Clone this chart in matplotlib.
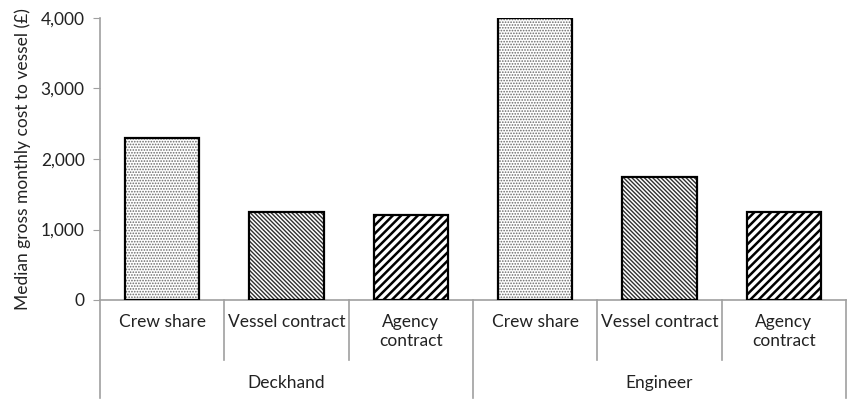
import matplotlib
matplotlib.use("Agg")
import matplotlib.pyplot as plt
import matplotlib.transforms as mtransforms
from matplotlib.ticker import FuncFormatter

plt.rcParams['hatch.linewidth'] = 1.0
plt.rcParams['font.family'] = ['Lato', 'DejaVu Sans']

groups = ["Deckhand", "Engineer"]
subcats = ["Crew share", "Vessel contract", "Agency\ncontract"]
values = [[2300, 1250, 1200], [4000, 1750, 1250]]
hatches = ["......", "\\\\\\\\\\\\\\\\", "////"]
hatch_colors = ["#6a6a6a", "#303030", "#000000"]
hatch_lws = [0.8, 1.0, 1.8]
yticks = [0, 1000, 2000, 3000, 4000]

fig = plt.figure(figsize=(8.48, 4.0), dpi=100)
ax = fig.add_axes([100/848, 100/400, 746/848, 282/400])

ns = len(subcats)
n = len(groups) * ns
x = 0
for gi, g in enumerate(groups):
    for si, s in enumerate(subcats):
        bars = ax.bar(x + 0.5, values[gi][si], width=0.6, facecolor="white",
                      edgecolor=hatch_colors[si], hatch=hatches[si], linewidth=0, zorder=2)
        for p in bars:
            if hasattr(p, "set_hatch_linewidth"):
                p.set_hatch_linewidth(hatch_lws[si])
        ax.bar(x + 0.5, values[gi][si], width=0.6, facecolor="none",
               edgecolor="black", linewidth=1.6, zorder=3)
        x += 1

ax.set_xlim(0, n)
ax.set_ylim(0, 4000)
ax.set_yticks(yticks)
ax.yaxis.set_major_formatter(FuncFormatter(lambda v, p: f"{int(v):,}"))
ax.tick_params(axis='y', length=5, color="#a0a0a0", labelsize=12.5, pad=6, labelcolor="#222222")
ax.set_xticks([])
for sp in ["top", "right"]:
    ax.spines[sp].set_visible(False)
for sp in ["left", "bottom"]:
    ax.spines[sp].set_color("#a0a0a0")
    ax.spines[sp].set_linewidth(1.2)

ax.set_ylabel("Median gross monthly cost to vessel (£)", fontsize=12.5, color="#222222", labelpad=7)

# category axis drawn below
trans = mtransforms.blended_transform_factory(ax.transData, fig.transFigure)
sep_col = "#a0a0a0"
y0 = 100/400
y_sub = (400-360)/400
y_grp = (400-398)/400
for i in range(n + 1):
    if i % ns == 0:
        ax.plot([i, i], [y0, y_grp], transform=trans, color=sep_col, lw=1.2, clip_on=False)
    else:
        ax.plot([i, i], [y0, y_sub], transform=trans, color=sep_col, lw=1.2, clip_on=False)

x = 0
for gi, g in enumerate(groups):
    for si, s in enumerate(subcats):
        ax.text(x + 0.5, (400-314)/400, s, transform=trans, ha="center", va="top",
                fontsize=12.5, color="#222222", linespacing=1.25)
        x += 1
    ax.text(gi * ns + ns / 2, (400-383)/400, g, transform=trans, ha="center", va="center",
            fontsize=12.5, color="#222222")

fig.savefig("out.png", dpi=100)
